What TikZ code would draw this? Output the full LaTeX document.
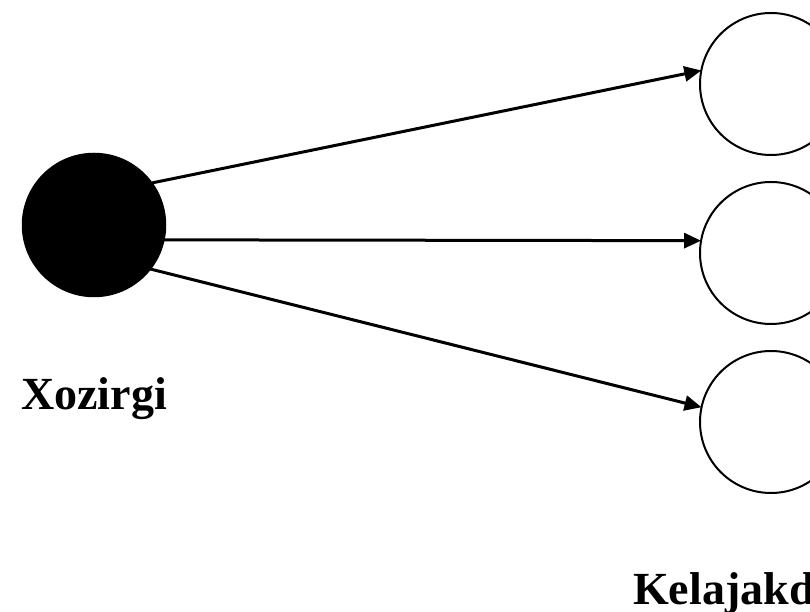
\documentclass[tikz,border=0pt]{standalone}
\usepackage{fontspec}
\setmainfont{Liberation Serif}
\usetikzlibrary{arrows.meta}
\tikzset{
  dot/.style={circle, draw, fill=black, line width=1.5pt, minimum size=143pt, inner sep=0pt, outer sep=0pt},
  ring/.style={circle, draw, line width=2pt, minimum size=142pt, inner sep=0pt, outer sep=0pt},
  flow/.style={-{Triangle[length=17pt, width=15pt]}, line width=3pt},
  lbl/.style={font=\fontsize{46}{50}\selectfont\bfseries, inner sep=0pt},
}

\begin{document}
\begin{tikzpicture}[x=1pt, y=1pt]
  \useasboundingbox (0,0) rectangle (810,612);
  \clip (0,0) rectangle (810,612);
  \node[dot] (cur) at (94,387) {};
  \node[ring] (fut1) at (771,528) {};
  \node[ring] (fut2) at (771,359) {};
  \node[ring] (fut3) at (771,190) {};
  \node[lbl, anchor=base] (curlbl) at (94,202) {Xozirgi};
  \node[lbl, anchor=base west] (futlbl) at (633,7) {Kelajakd};
  \draw[flow] (cur.36) -- (fut1.169);
  \draw[flow] (cur.-12) -- (fut2.170);
  \draw[flow] (cur.-38) -- (fut3.168);
\end{tikzpicture}
\end{document}
